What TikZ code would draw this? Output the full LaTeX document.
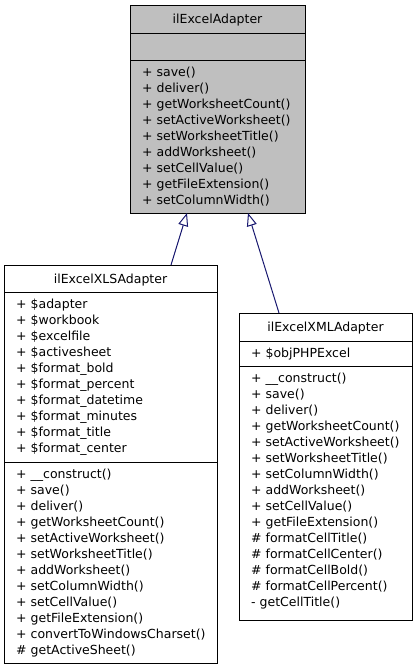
\documentclass[tikz,border=0pt]{standalone}
\usepackage{fontspec}
\setmainfont{DejaVu Sans}
\usetikzlibrary{arrows.meta}
\definecolor{navyline}{HTML}{191970}
\definecolor{absfill}{HTML}{BFBFBF}
\begin{document}
\begin{tikzpicture}[x=1pt,y=-1pt,
  classbox/.style={draw=black, line width=1pt, inner sep=0pt, anchor=north west},
  plainbox/.style={classbox, fill=white},
  absbox/.style={classbox, fill=absfill},
  sepline/.style={draw=black, line width=1pt},
  member/.style={anchor=base west, inner sep=0pt, font=\fontsize{12.5}{14}\selectfont},
  ttl/.style={anchor=base, inner sep=0pt, font=\fontsize{12.5}{14}\selectfont},
  inh/.style={draw=navyline, line width=1pt, -{Triangle[open, fill=white, length=13pt, width=10pt]}}
]
\useasboundingbox (0,0) rectangle (416,672);

% ---------- ilExcelAdapter ----------
\node[absbox, minimum width=175pt, minimum height=208pt] (A) at (130,5) {};
\draw[sepline] (130,33) -- (305,33);
\draw[sepline] (130,60) -- (305,60);
\node[ttl] (Atitle) at (217.5,23.5) {ilExcelAdapter};
\foreach \t [count=\i from 0] in {save(),deliver(),getWorksheetCount(),setActiveWorksheet(),setWorksheetTitle(),addWorksheet(),setCellValue(),getFileExtension(),setColumnWidth()}
  \node[member] (Am\i) at (142,{76.5+16*\i}) {+ \t};

% ---------- ilExcelXLSAdapter ----------
\node[plainbox, minimum width=213pt, minimum height=398pt] (X) at (4,265) {};
\draw[sepline] (4,292) -- (217,292);
\draw[sepline] (4,462) -- (217,462);
\node[ttl] (Xtitle) at (110.5,283) {ilExcelXLSAdapter};
\foreach \t [count=\i from 0] in {\$adapter,\$workbook,\$excelfile,\$activesheet,\$format\_bold,\$format\_percent,\$format\_datetime,\$format\_minutes,\$format\_title,\$format\_center}
  \node[member] (Xa\i) at (16,{308.5+16*\i}) {+ \t};
\foreach \t [count=\i from 0] in {+ \_\_construct(),+ save(),+ deliver(),+ getWorksheetCount(),+ setActiveWorksheet(),+ setWorksheetTitle(),+ addWorksheet(),+ setColumnWidth(),+ setCellValue(),+ getFileExtension(),+ convertToWindowsCharset(),\# getActiveSheet()}
  \node[member] (Xm\i) at (16,{478.5+16*\i}) {\t};

% ---------- ilExcelXMLAdapter ----------
\node[plainbox, minimum width=173pt, minimum height=307pt] (M) at (239,313) {};
\draw[sepline] (239,341) -- (412,341);
\draw[sepline] (239,366) -- (412,366);
\node[ttl] (Mtitle) at (325.5,331.5) {ilExcelXMLAdapter};
\node[member] (Ma0) at (251,357.5) {+ \$objPHPExcel};
\foreach \t [count=\i from 0] in {+ \_\_construct(),+ save(),+ deliver(),+ getWorksheetCount(),+ setActiveWorksheet(),+ setWorksheetTitle(),+ setColumnWidth(),+ addWorksheet(),+ setCellValue(),+ getFileExtension(),\# formatCellTitle(),\# formatCellCenter(),\# formatCellBold(),\# formatCellPercent(),- getCellTitle()}
  \node[member] (Mm\i) at (251,{382.5+16*\i}) {\t};

% ---------- inheritance ----------
\coordinate (Xtop) at (171,265);
\coordinate (Mtop) at (279,313);
\coordinate (Atip1) at (187,213);
\coordinate (Atip2) at (248,213);
\draw[inh] (Xtop) -- (Atip1);
\draw[inh] (Mtop) -- (Atip2);
\end{tikzpicture}
\end{document}
